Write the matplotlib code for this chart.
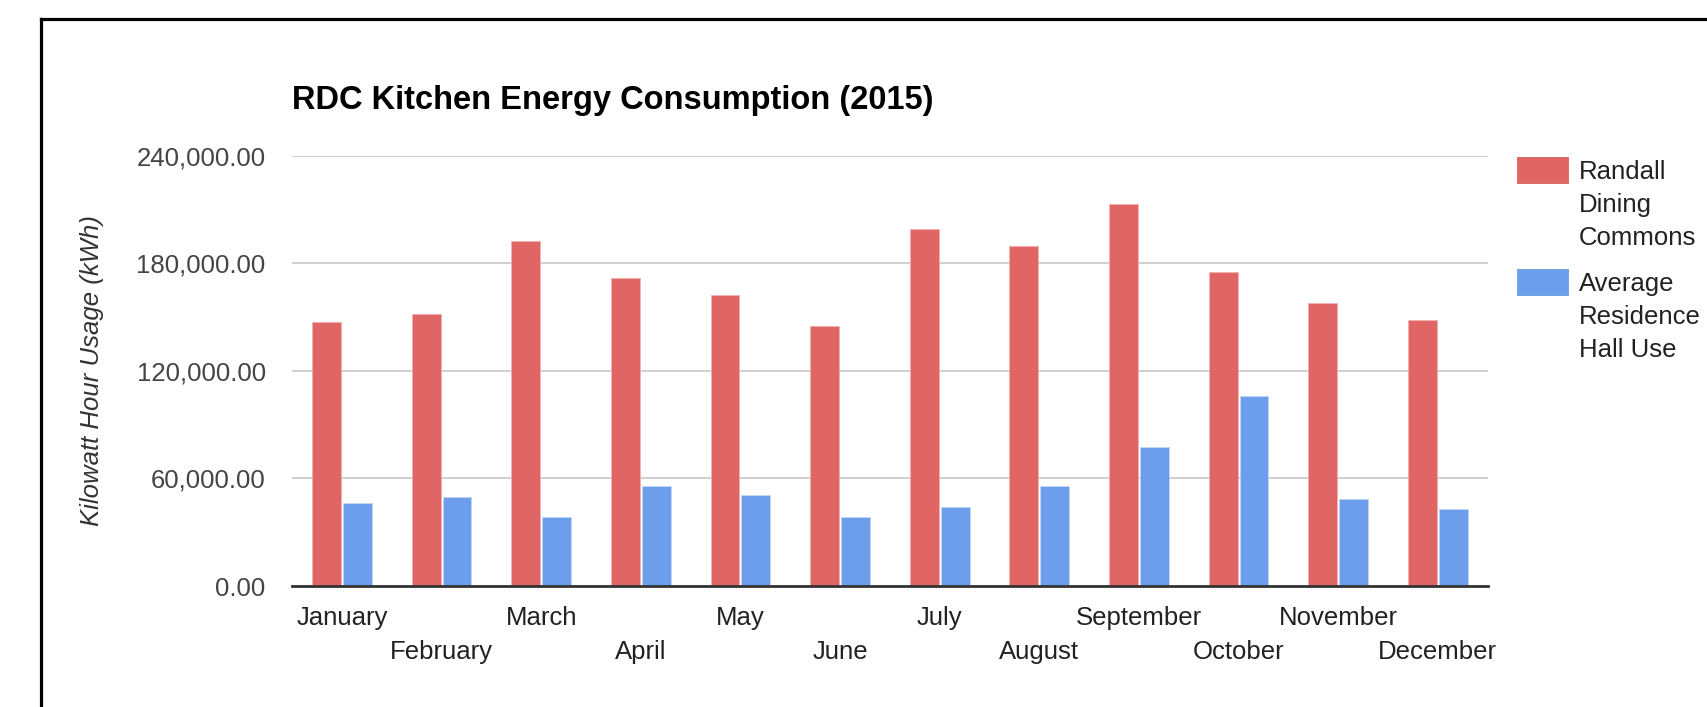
import numpy as np
import matplotlib.pyplot as plt
from matplotlib.lines import Line2D
from matplotlib.patches import Rectangle
from matplotlib.ticker import FuncFormatter

# Monthly kitchen energy use (kWh)
months = ['January', 'February', 'March', 'April', 'May', 'June',
          'July', 'August', 'September', 'October', 'November', 'December']
randall = [147300, 151800, 192200, 171500, 162400, 145100,
           199000, 189800, 212800, 174900, 157700, 148500]
residence = [46400, 49900, 38300, 55600, 50900, 38300,
             44100, 55600, 77300, 106000, 48600, 42800]
series_names = ['Randall\nDining\nCommons', 'Average\nResidence\nHall Use']
series_colors = ['#e06666', '#6d9eeb']
yticks = [0, 60000, 120000, 180000, 240000]

plt.rcParams['font.family'] = ['Liberation Sans', 'DejaVu Sans']

fig = plt.figure(figsize=(17.08, 7.07), dpi=100)
ax = fig.add_axes([0.171, 0.171, 0.700, 0.609])

x = np.arange(len(months))
w = 0.29
ax.bar(x - 0.155, randall, w, color=series_colors[0], edgecolor='#f0b0b0', linewidth=0.6, zorder=2)
ax.bar(x + 0.155, residence, w, color=series_colors[1], edgecolor='#c0d4f6', linewidth=0.6, zorder=2)

ax.set_xlim(-0.5, len(months) - 0.5)
ax.set_ylim(0, 240000)
ax.set_yticks(yticks)
ax.yaxis.set_major_formatter(FuncFormatter(lambda v, p: f'{v:,.2f}'))
ax.grid(axis='y', color='#cccccc', linewidth=1.3, zorder=0)

# month labels staggered on two rows
ax.set_xticks(x[::2], [months[i] for i in x[::2]])
ax.set_xticks(x[1::2], [months[i] for i in x[1::2]], minor=True)
ax.tick_params(axis='x', which='major', length=0, pad=14, labelsize=18.5, labelcolor='#222222')
ax.tick_params(axis='x', which='minor', length=0, pad=39, labelsize=18.5, labelcolor='#222222')
ax.tick_params(axis='y', length=0, pad=19, labelsize=18.5, labelcolor='#444444')

for s in ['top', 'right', 'left']:
    ax.spines[s].set_visible(False)
ax.spines['bottom'].set_color('#333333')
ax.spines['bottom'].set_linewidth(2)
ax.spines['bottom'].set_zorder(3)

ax.set_ylabel('Kilowatt Hour Usage (kWh)', fontsize=18.5, style='italic', color='#333333')
ax.yaxis.set_label_coords(-0.157, 0.5)

fig.text(292 / 1708, 1 - 100 / 707, 'RDC Kitchen Energy Consumption (2015)',
         fontsize=23.5, fontweight='bold', ha='left', va='center', color='#000000')

# legend on the right
for i, (name, col) in enumerate(zip(series_names, series_colors)):
    top = 156 + i * 112
    fig.patches.append(Rectangle((1516 / 1708, 1 - (top + 28) / 707), 53 / 1708, 28 / 707,
                                 transform=fig.transFigure, facecolor=col,
                                 edgecolor='#ffffff', linewidth=0.8))
    fig.text(1579 / 1708, 1 - (top + 49) / 707, name, fontsize=18.5, color='#222222',
             ha='left', va='center', linespacing=1.46)

# frame around the chart (right and bottom edges fall outside the image)
fig.add_artist(Line2D([41 / 1708, 1.01], [1 - 19 / 707] * 2, color='black', linewidth=2.3,
                      transform=fig.transFigure))
fig.add_artist(Line2D([41 / 1708] * 2, [1 - 19 / 707, -0.01], color='black', linewidth=2.3,
                      transform=fig.transFigure))

fig.savefig('out.png', dpi=100)
